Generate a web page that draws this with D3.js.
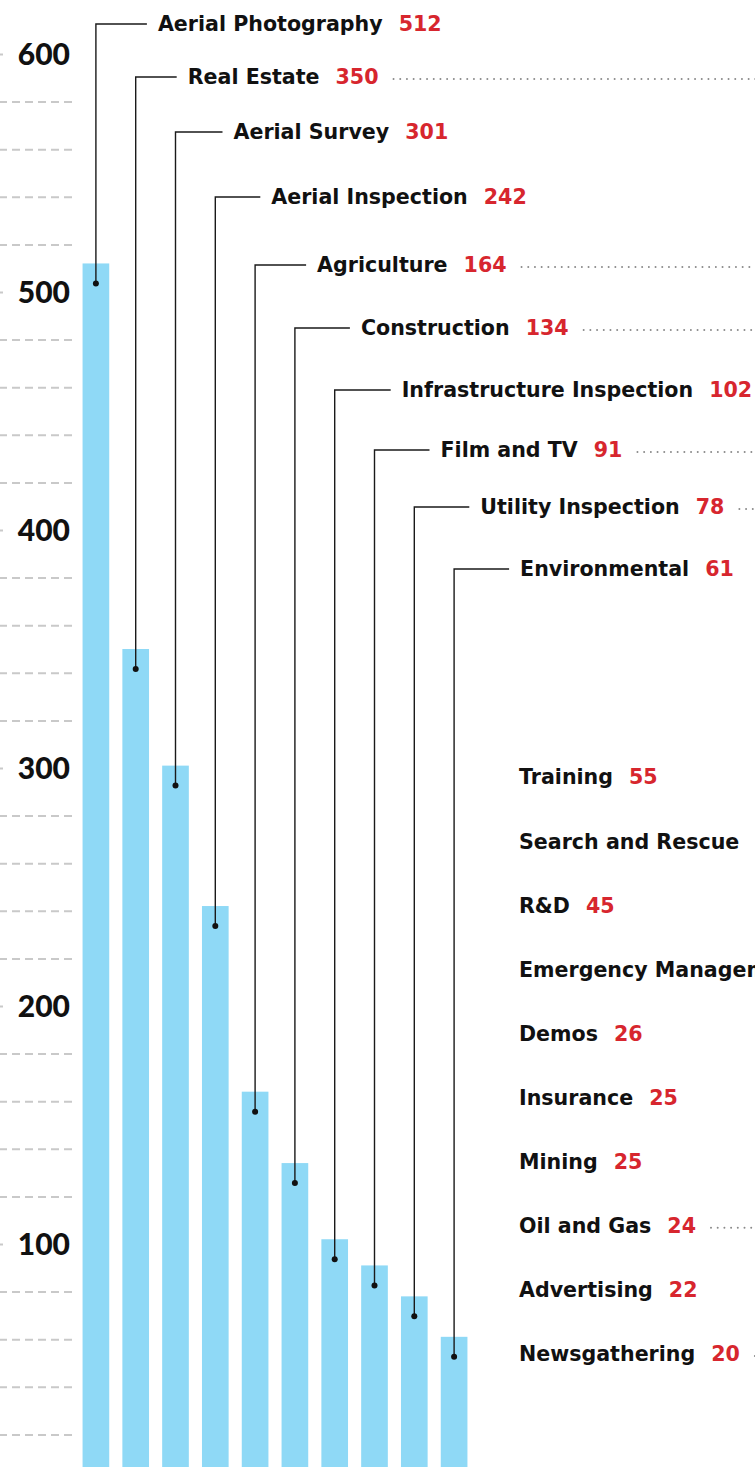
<!DOCTYPE html>
<html>
<head>
<meta charset="utf-8">
<script src="https://cdn.jsdelivr.net/npm/d3@7"></script>
<style>
  body { margin: 0; background: #fff; }
  svg { display: block; }
</style>
</head>
<body>
<script>
// top ten use cases (bars)
var categories = ["Aerial Photography", "Real Estate", "Aerial Survey", "Aerial Inspection", "Agriculture",
                  "Construction", "Infrastructure Inspection", "Film and TV", "Utility Inspection", "Environmental"];
var counts = [512, 350, 301, 242, 164, 134, 102, 91, 78, 61];

// the rest, listed as text only
var otherCategories = ["Training", "Search and Rescue", "R&D", "Emergency Management", "Demos",
                       "Insurance", "Mining", "Oil and Gas", "Advertising", "Newsgathering"];
var otherCounts = [55, 49, 45, 31, 26, 25, 25, 24, 22, 20];

// rows that continue with a dotted leader to the right
var linked = ["Real Estate", "Agriculture", "Construction", "Film and TV", "Utility Inspection",
              "Oil and Gas", "Newsgathering"];

var tickLabels = [100, 200, 300, 400, 500, 600];
var gridTicks = d3.range(20, 600, 20).filter(function(v) { return v % 100 !== 0; });

// annotation layout (label rows and offsets from the bar centre)
var labelRowY = [24, 77, 132, 197, 265, 328, 390, 450, 507, 569];
var labelDx = [62, 52, 58, 56, 62, 66, 67, 66, 66, 66];

function main() {
  var width = 755, height = 1467;
  var svg = d3.select("body").append("svg")
      .attr("width", width)
      .attr("height", height);

  var y = d3.scaleLinear().domain([0, 600]).range([1482, 54]);
  var x = d3.scaleBand().domain(categories).range([76, 474])
      .paddingInner(0.33).paddingOuter(0.165);

  var labelFont = "'DejaVu Sans', sans-serif";
  var red = "#d7262e";

  // dashed grid
  var grid = svg.append("g")
      .attr("transform", "translate(72,0)")
      .call(d3.axisLeft(y).tickValues(gridTicks).tickSize(72).tickFormat(""));
  grid.select(".domain").remove();
  grid.selectAll(".tick line")
      .attr("stroke", "#c9c9c9")
      .attr("stroke-width", 2)
      .attr("stroke-dasharray", "8,5");

  // labelled ticks
  var ax = svg.append("g")
      .attr("transform", "translate(70,0)")
      .call(d3.axisLeft(y).tickValues(tickLabels).tickSize(0).tickPadding(0));
  ax.select(".domain").remove();
  ax.selectAll(".tick text")
      .attr("font-family", "Lato, sans-serif")
      .attr("font-weight", 900)
      .attr("font-size", 30)
      .attr("fill", "#111")
      .attr("dy", "0.36em");
  ax.selectAll(".tick").append("line")
      .attr("x1", -70).attr("x2", -67)
      .attr("stroke", "#c9c9c9").attr("stroke-width", 2);

  // bars
  svg.append("g").selectAll("rect")
    .data(categories)
    .enter()
    .append("rect")
      .attr("x", function(d) { return x(d); })
      .attr("y", function(d, i) { return y(counts[i]); })
      .attr("width", x.bandwidth())
      .attr("height", function(d, i) { return y(0) - y(counts[i]); })
      .attr("fill", "#8fd9f6");

  // leader lines
  var leaders = svg.append("g").selectAll("g")
    .data(categories)
    .enter()
    .append("g");

  leaders.append("path")
      .attr("d", function(d, i) {
        var cx = x(d) + x.bandwidth() / 2;
        return "M" + cx + "," + (y(counts[i]) + 20) +
               "V" + labelRowY[i] + "H" + (cx + labelDx[i] - 11);
      })
      .attr("fill", "none")
      .attr("stroke", "#1a1a1a")
      .attr("stroke-width", 1.4);

  leaders.append("circle")
      .attr("cx", function(d) { return x(d) + x.bandwidth() / 2; })
      .attr("cy", function(d, i) { return y(counts[i]) + 20; })
      .attr("r", 3)
      .attr("fill", "#111");

  function addLabel(sel, name, value, lx, ly) {
    var t = sel.append("text")
        .attr("x", lx)
        .attr("y", ly)
        .attr("dy", "0.36em")
        .attr("font-family", labelFont)
        .attr("font-weight", 700)
        .attr("font-size", 20.6)
        .attr("fill", "#111");
    t.append("tspan").text(name);
    t.append("tspan").attr("dx", 16).attr("fill", red).text(value);
    if (linked.indexOf(name) >= 0) {
      var end = lx + t.node().getComputedTextLength() + 16 + 15;
      sel.append("line")
          .attr("x1", end).attr("x2", width + 5)
          .attr("y1", ly + 2).attr("y2", ly + 2)
          .attr("stroke", "#8a8a8a")
          .attr("stroke-width", 2)
          .attr("stroke-linecap", "round")
          .attr("stroke-dasharray", "0,6.7");
    }
  }

  leaders.each(function(d, i) {
    var cx = x(d) + x.bandwidth() / 2;
    addLabel(d3.select(this), d, counts[i], cx + labelDx[i], labelRowY[i]);
  });

  // text-only list
  var listY = d3.scalePoint().domain(otherCategories).range([777, 1354]);
  var list = svg.append("g");
  otherCategories.forEach(function(d, i) {
    addLabel(list.append("g"), d, otherCounts[i], 519, listY(d));
  });
}

main();
</script>
</body>
</html>
